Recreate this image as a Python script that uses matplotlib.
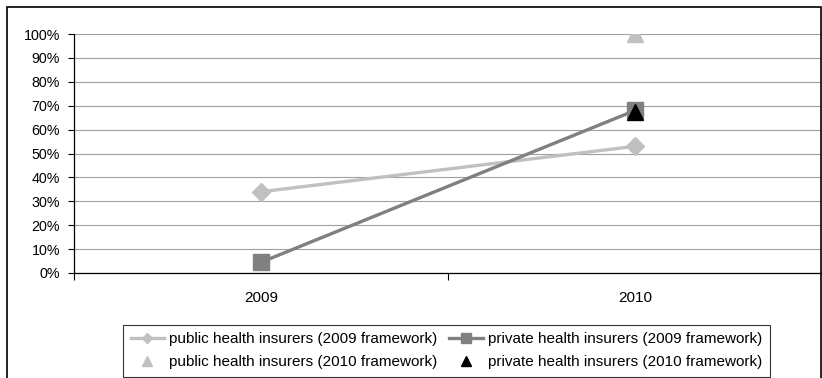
import matplotlib.pyplot as plt
from matplotlib.patches import Rectangle
from matplotlib.ticker import PercentFormatter
import numpy as np

plt.rcParams['font.family'] = ['Liberation Sans', 'DejaVu Sans']

years = ["2009", "2010"]
public_2009fw = [34, 53]
private_2009fw = [4.5, 68]
public_2010fw = [100]
private_2010fw = [67.5]
yticks = list(range(0, 101, 10))

LIGHT = "#c0c0c0"
DARK = "#808080"

fig = plt.figure(figsize=(8.22, 3.78), dpi=100)
ax = fig.add_axes([74/822, 1-273/378, 1-74/822, (273-34)/378])

x = np.arange(len(years))
h1, = ax.plot(x, public_2009fw, color=LIGHT, lw=2.4, marker="D", ms=9,
              label="public health insurers (2009 framework)")
h2, = ax.plot(x, private_2009fw, color=DARK, lw=2.4, marker="s", ms=11,
              label="private health insurers (2009 framework)")
h3, = ax.plot(x[1:], public_2010fw, ls="none", color=LIGHT, marker="^", ms=12,
              label="public health insurers (2010 framework)")
h4, = ax.plot(x[1:], private_2010fw, ls="none", color="black", marker="^", ms=12,
              label="private health insurers (2010 framework)")

ax.set_xlim(-0.5, 1.5)
ax.set_ylim(0, 100)
ax.set_yticks(yticks)
ax.yaxis.set_major_formatter(PercentFormatter(decimals=0))
ax.set_xticks(x)
ax.set_xticklabels(years)
ax.set_xticks([-0.5, 0.5, 1.5], minor=True)
ax.tick_params(axis="x", which="major", length=0, pad=13, labelsize=11)
ax.tick_params(axis="x", which="minor", length=5, width=0.8)
ax.tick_params(axis="y", length=4, width=0.8, labelsize=10.3, pad=6)
ax.grid(axis="y", color="#a0a0a0", lw=0.8)
ax.set_axisbelow(True)
for s in ["top", "right"]:
    ax.spines[s].set_visible(False)
ax.spines["left"].set_linewidth(0.9)
ax.spines["bottom"].set_linewidth(0.9)

leg = fig.legend(handles=[h1, h3, h2, h4], ncol=2, loc="lower left",
                 bbox_to_anchor=(123/822, 1/378),
                 fontsize=11, frameon=True, fancybox=False,
                 edgecolor="black", handlelength=2.2, handletextpad=0.33,
                 columnspacing=0.75, borderpad=0.5, borderaxespad=0,
                 labelspacing=0.6, markerscale=0.6)
leg.get_frame().set_linewidth(0.8)

fig.patches.append(Rectangle((7/822, -0.05), 1 - 8/822, 1.05 - 7/378,
                             transform=fig.transFigure, fill=False,
                             edgecolor="black", lw=1.2))

fig.savefig("out.png", dpi=100)
